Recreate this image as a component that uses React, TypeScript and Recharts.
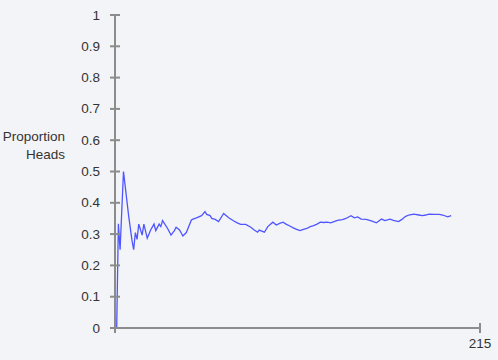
import React from 'react';
import { LineChart, Line, XAxis, YAxis } from 'recharts';

const trials = [
  1, 2, 3, 5, 8, 10, 11, 12, 13, 14, 16, 17, 19, 21, 23, 24, 26, 27, 28, 31, 33, 35, 36, 38, 40, 42,
  45, 46, 48, 51, 53, 54, 56, 57, 59, 61, 64, 67, 70, 72, 74, 77, 80, 82, 84, 85, 88, 90, 93, 95,
  97, 99, 101, 103, 105, 107, 109, 111, 113, 115, 117, 119, 121, 123, 125, 127, 129, 131, 134, 136,
  139, 141, 143, 145, 148, 151, 154, 155, 157, 159, 162, 164, 167, 169, 171, 173, 176, 179, 181,
  183, 185, 188, 191, 193, 196, 198,
];

const proportions = [
  0, 0.333, 0.25, 0.5, 0.36, 0.28, 0.25, 0.305, 0.283, 0.332, 0.297, 0.332, 0.287, 0.313, 0.332, 0.311,
  0.332, 0.324, 0.343, 0.318, 0.297, 0.311, 0.322, 0.313, 0.294, 0.305, 0.345, 0.348, 0.352, 0.359,
  0.372, 0.363, 0.359, 0.35, 0.347, 0.34, 0.366, 0.352, 0.342, 0.336, 0.331, 0.331, 0.322, 0.313,
  0.306, 0.313, 0.306, 0.324, 0.338, 0.329, 0.334, 0.338, 0.331, 0.326, 0.32, 0.315, 0.311, 0.315,
  0.318, 0.324, 0.327, 0.332, 0.338, 0.337, 0.338, 0.336, 0.34, 0.344, 0.346, 0.35, 0.359, 0.352,
  0.355, 0.348, 0.347, 0.342, 0.336, 0.34, 0.348, 0.343, 0.348, 0.344, 0.34, 0.347, 0.356, 0.361,
  0.364, 0.361, 0.359, 0.361, 0.364, 0.363, 0.363, 0.361, 0.355, 0.359,
];

const yTicks = [0, 0.1, 0.2, 0.3, 0.4, 0.5, 0.6, 0.7, 0.8, 0.9, 1];
const xTicks = [0, 215];
const xTickLabels = ['', '215'];
const yLabelLines = ['Proportion', 'Heads'];

const data = trials.map((t, i) => ({ trial: t, p: proportions[i] }));

const AXIS = '#8c8c8c';
const TEXT = '#333333';
const FONT = 'Arial, "Liberation Sans", sans-serif';

const YTick = (props: any) => {
  const { x, y, payload } = props;
  return (
    <g>
      <line x1={x - 5} x2={x + 5} y1={y} y2={y} stroke={AXIS} strokeWidth={2} />
      <text x={x - 15} y={y} textAnchor="end" dominantBaseline="central" fill={TEXT} fontSize={13.5} fontFamily={FONT}>
        {String(payload.value)}
      </text>
    </g>
  );
};

const XTick = (props: any) => {
  const { x, y, payload, index } = props;
  return (
    <g>
      <line x1={x} x2={x} y1={y - 5} y2={y + 5} stroke={AXIS} strokeWidth={2} />
      <text x={x} y={y + 20} textAnchor="middle" fill={TEXT} fontSize={13.5} fontFamily={FONT}>
        {xTickLabels[xTicks.indexOf(payload.value)] ?? ''}
      </text>
    </g>
  );
};

const YLabel = (props: any) => {
  const vb = props.viewBox || { x: 0, y: 0, width: 0, height: 0 };
  const cy = vb.y + vb.height / 2;
  return (
    <text textAnchor="end" fill={TEXT} fontSize={13.5} fontFamily={FONT}>
      {yLabelLines.map((l, i) => (
        <tspan key={i} x={vb.x + 65} y={cy - 31 + i * 18}>
          {l}
        </tspan>
      ))}
    </text>
  );
};

export default function App() {
  return (
    <div style={{ position: 'absolute', left: 0, top: 0, width: 498, height: 360, background: '#f3f4f7' }}>
      <LineChart width={498} height={360} data={data} margin={{ top: 15, right: 18, bottom: 0, left: 0 }}>
        <XAxis
          dataKey="trial"
          type="number"
          domain={[0, 215]}
          ticks={xTicks}
          tickSize={0}
          tickMargin={0}
          tickLine={false}
          height={32}
          axisLine={{ stroke: AXIS, strokeWidth: 2 }}
          tick={<XTick />}
          interval={0}
        />
        <YAxis
          type="number"
          domain={[0, 1]}
          ticks={yTicks}
          tickSize={0}
          tickMargin={0}
          tickLine={false}
          width={115}
          axisLine={{ stroke: AXIS, strokeWidth: 2 }}
          tick={<YTick />}
          interval={0}
          label={<YLabel />}
        />
        <Line
          type="linear"
          dataKey="p"
          stroke="#4f55ff"
          strokeWidth={1.3}
          dot={false}
          isAnimationActive={false}
        />
      </LineChart>
    </div>
  );
}
